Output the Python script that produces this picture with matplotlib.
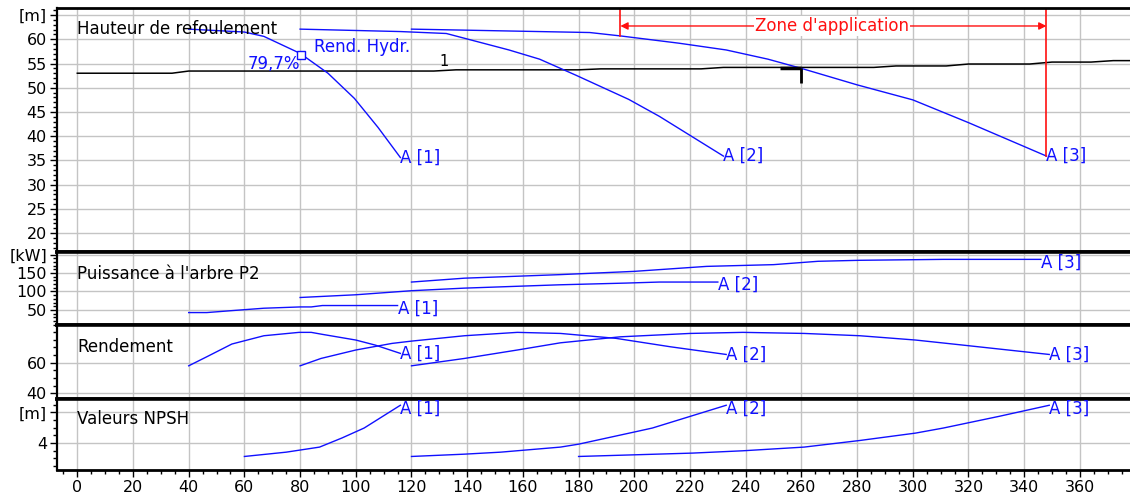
import matplotlib
matplotlib.use("Agg")
import matplotlib.pyplot as plt
from matplotlib.ticker import MultipleLocator, FixedLocator, FixedFormatter

plt.rcParams['font.family'] = ['DejaVu Sans']

BLUE = '#1010ff'
RED = '#ff1010'
GRID = '#c4c4c4'

# ---------------- data ----------------
pumps = ['A [1]', 'A [2]', 'A [3]']

# Hauteur de refoulement [m]
h1_q = [40, 60, 67, 80, 90, 99.5, 108, 116]
h1_h = [62.1, 61.5, 60.6, 57.1, 53.0, 47.8, 41.8, 35.6]
h2_q = [80, 116, 132.5, 155, 166, 179, 198, 209, 232]
h2_h = [62.1, 61.6, 61.2, 57.8, 55.9, 52.6, 47.6, 44.1, 35.9]
h3_q = [120, 184, 195, 216, 233, 248, 260, 280, 300, 320, 348]
h3_h = [62.1, 61.4, 60.7, 59.2, 57.8, 55.9, 54.0, 50.6, 47.5, 42.8, 35.9]

# Courbe réseau "1"
sys_q = [0, 34, 40, 128, 136, 180, 188, 224, 232, 286, 294, 312, 320, 342, 350, 364, 372, 378]
sys_h = [53.0, 53.0, 53.45, 53.45, 53.7, 53.7, 53.9, 53.9, 54.2, 54.2, 54.5, 54.5, 54.9, 54.9, 55.3, 55.3, 55.6, 55.6]

# Puissance à l'arbre P2 [kW]
p1_q = [40, 46.5, 55.5, 67, 80, 84, 88, 115]
p1_p = [42.7, 42.7, 48, 54.5, 58, 58, 61.8, 61.8]
p2_q = [80, 100, 120, 139, 173, 197, 209, 230]
p2_p = [83.6, 91, 102, 109, 118, 122.7, 125.5, 125.5]
p3_q = [120, 139, 173, 200, 226, 250, 266, 281, 311, 346]
p3_p = [125.5, 136, 145.5, 154.5, 168, 172.7, 181.8, 184.5, 187, 187]

# Rendement [%]
r1_q = [40, 46.5, 55.5, 67, 79.6, 84, 88, 100, 107, 116]
r1_r = [58, 63.9, 72.2, 77.6, 79.8, 79.8, 78.5, 74.8, 71.5, 66.1]
r2_q = [80, 87.5, 100, 113, 120, 139, 158, 173.5, 193.4, 213, 233]
r2_r = [58, 62.8, 68.3, 72.6, 74.1, 77.6, 79.8, 79.1, 75.9, 70.4, 65.4]
r3_q = [120, 139, 158, 173.5, 195, 220, 239, 261, 281, 301, 318, 349]
r3_r = [58, 62.8, 68.3, 73, 76.9, 79.1, 79.8, 79.1, 77.6, 74.8, 71.5, 65.4]

# Valeurs NPSH [m]
n1_q = [60, 75, 87, 95, 103, 116]
n1_n = [3.13, 3.41, 3.74, 4.33, 4.98, 6.46]
n2_q = [120, 139, 152, 173.5, 180, 200, 206.5, 233]
n2_n = [3.13, 3.28, 3.41, 3.74, 3.93, 4.72, 4.98, 6.46]
n3_q = [180, 221, 239, 261, 281, 301, 311, 331, 349]
n3_n = [3.13, 3.35, 3.5, 3.74, 4.17, 4.65, 4.98, 5.74, 6.46]

x_ticks = list(range(0, 361, 20))
zone = (195, 348)
bep_q, bep_h, bep_eff = 80.3, 56.8, '79,7%'
op_q, op_h, op_h_low = 260, 54.0, 50.9

# ---------------- figure ----------------
W, H = 1130, 497
fig = plt.figure(figsize=(W / 100, H / 100), dpi=100)

def fy(px):
    return 1 - px / H

left = 56.7 / W
bounds = [(8.3, 252), (252, 325), (325, 398.5), (398.5, 470)]
axes = []
for top, bot in bounds:
    ax = fig.add_axes([left, fy(bot), 1 - left, (bot - top) / H])
    axes.append(ax)

xlim = (-7.4, 378)
fs = 12
tfs = 11.5
for i, ax in enumerate(axes):
    ax.set_xlim(*xlim)
    ax.xaxis.set_major_locator(FixedLocator(x_ticks))
    ax.xaxis.set_minor_locator(MultipleLocator(5))
    ax.grid(True, which='major', color=GRID, lw=1.0)
    ax.set_axisbelow(True)
    ax.spines['right'].set_visible(False)
    for s in ('top', 'bottom'):
        ax.spines[s].set_linewidth(2.6)
    ax.spines['left'].set_linewidth(1.6)
    ax.tick_params(axis='both', which='major', direction='out', length=5, width=1, labelsize=tfs, pad=2)
    ax.tick_params(axis='both', which='minor', direction='out', length=3, width=1)
    if i < 3:
        ax.tick_params(axis='x', which='both', bottom=False, labelbottom=False)
axes[0].spines['top'].set_linewidth(2.0)
axes[3].spines['bottom'].set_linewidth(2.0)
axes[3].set_xticklabels([str(v) for v in x_ticks])

# Panel 1
a = axes[0]
a.set_ylim(16.1, 66.4)
yt = [20, 25, 30, 35, 40, 45, 50, 55, 60, 65]
a.yaxis.set_major_locator(FixedLocator(yt))
a.yaxis.set_major_formatter(FixedFormatter([str(v) for v in yt[:-1]] + ['[m]']))
a.yaxis.set_minor_locator(MultipleLocator(1))
a.plot(sys_q, sys_h, color='black', lw=1.1)
for q, h, lab in [(h1_q, h1_h, pumps[0]), (h2_q, h2_h, pumps[1]), (h3_q, h3_h, pumps[2])]:
    a.plot(q, h, color=BLUE, lw=1.0)
    a.text(q[-1], h[-1], lab, color=BLUE, fontsize=fs, ha='left', va='center')
a.text(0, 62.1, 'Hauteur de refoulement', fontsize=fs, ha='left', va='center')
a.text(131.7, 55.4, '1', fontsize=fs - 1.5, ha='center', va='center')
a.plot([bep_q], [bep_h], marker='s', ms=6, mfc='white', mec=BLUE, mew=1.0, zorder=5)
a.text(85, 58.5, 'Rend. Hydr.', color=BLUE, fontsize=fs, ha='left', va='center')
a.text(80, 54.9, bep_eff, color=BLUE, fontsize=fs, ha='right', va='center')
# operating point marker
a.plot([op_q - 7.5, op_q], [op_h, op_h], color='black', lw=2.5, solid_capstyle='butt')
a.plot([op_q, op_q], [op_h, op_h_low], color='black', lw=2.0, solid_capstyle='butt')
# Zone d'application
ytop = a.get_ylim()[1]
a.plot([zone[0], zone[0]], [ytop, 60.7], color=RED, lw=1.2)
a.plot([zone[1], zone[1]], [ytop, 35.9], color=RED, lw=1.2)
a.annotate('', xy=(zone[0], 62.75), xytext=(zone[1], 62.75),
           arrowprops=dict(arrowstyle='<|-|>', color=RED, lw=1.0, mutation_scale=11,
                           shrinkA=0, shrinkB=0))
a.text(271, 62.75, "Zone d'application", color=RED, fontsize=fs, ha='center', va='center',
       bbox=dict(boxstyle='square,pad=0.05', fc='white', ec='none'))

# Panel 2
a = axes[1]
a.set_ylim(9, 207)
yt = [50, 100, 150, 200]
a.yaxis.set_major_locator(FixedLocator(yt))
a.yaxis.set_major_formatter(FixedFormatter(['50', '100', '150', '[kW]']))
a.yaxis.set_minor_locator(MultipleLocator(10))
for q, p, lab in [(p1_q, p1_p, pumps[0]), (p2_q, p2_p, pumps[1]), (p3_q, p3_p, pumps[2])]:
    a.plot(q, p, color=BLUE, lw=1.0)
    a.text(q[-1], p[-1] - 8, lab, color=BLUE, fontsize=fs, ha='left', va='center')
a.text(0, 147, "Puissance à l'arbre P2", fontsize=fs, ha='left', va='center')

# Panel 3
a = axes[2]
a.set_ylim(36.7, 84.6)
a.yaxis.set_major_locator(FixedLocator([40, 60]))
a.yaxis.set_minor_locator(MultipleLocator(5))
for q, r, lab in [(r1_q, r1_r, pumps[0]), (r2_q, r2_r, pumps[1]), (r3_q, r3_r, pumps[2])]:
    a.plot(q, r, color=BLUE, lw=1.0)
    a.text(q[-1], r[-1], lab, color=BLUE, fontsize=fs, ha='left', va='center')
a.text(0, 70, 'Rendement', fontsize=fs, ha='left', va='center')

# Panel 4
a = axes[3]
a.set_ylim(2.25, 6.9)
a.yaxis.set_major_locator(FixedLocator([4, 6]))
a.yaxis.set_major_formatter(FixedFormatter(['4', '[m]']))
a.yaxis.set_minor_locator(MultipleLocator(0.5))
for q, n, lab in [(n1_q, n1_n, pumps[0]), (n2_q, n2_n, pumps[1]), (n3_q, n3_n, pumps[2])]:
    a.plot(q, n, color=BLUE, lw=1.0)
    a.text(q[-1], n[-1] - 0.2, lab, color=BLUE, fontsize=fs, ha='left', va='center')
a.text(0, 5.55, 'Valeurs NPSH', fontsize=fs, ha='left', va='center')

fig.savefig('out.png', dpi=100)
